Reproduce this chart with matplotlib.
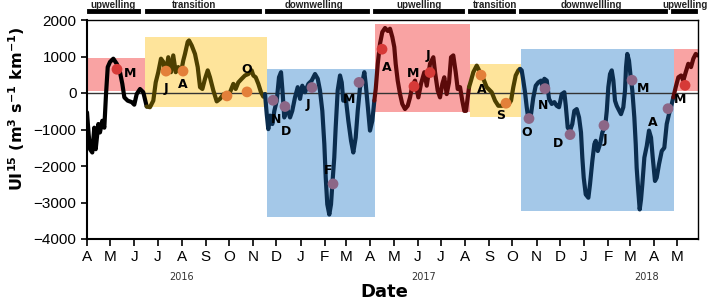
import matplotlib
matplotlib.use("Agg")
import matplotlib.pyplot as plt
import matplotlib.dates as mdates
import matplotlib.transforms as mtransforms
import numpy as np

# days since 2016-04-01 and upwelling index values, one pair of lists per season
up16_day = [0, 2, 3.9, 6.8, 9.4, 11.2, 14.6, 16.7, 19.7, 22.3, 24.5, 26.7, 29.6, 33.9, 38.3, 42.5,
            45.5, 48.1, 52.4, 57.6, 60.9, 64.0, 68.3, 72.5, 76.9]
up16_val = [-530, -1100, -1540, -1630, -950, -1540, -850, -1080, -760, -950, -30, 710, 850, 940,
            800, 570, 250, -120, -210, -250, -320, -30, 110, 20, -370]

tr16_day = [76.9, 81.1, 85.4, 88.5, 91.8, 95.3, 98.3, 101.4, 104.7, 108.2, 111.1, 114.3, 117.6,
            121.1, 124.0, 126.2, 129.7, 131.4, 134.9, 139.1, 142.6, 145.6, 148.6, 152.0, 155.5,
            158.4, 162.7, 167.1, 171.3, 175.6, 180.0, 184.2, 188.5, 191.5, 194.9, 199.3, 203.5,
            207.8, 212.1, 214.2, 217.3, 220.7, 224.1, 227.1, 229.3]
tr16_val = [-370, -390, -210, 290, 570, 940, 850, 520, 980, 570, 1030, 570, 710, 570, 890, 1070,
            1400, 1440, 1300, 1070, 710, 160, 110, 390, 620, 430, 70, -230, -160, -40, -120, 20,
            250, 110, 290, 390, 480, 520, 620, 480, 430, 250, 20, -100, -30]

dw16_day = [229.3, 231.5, 233.5, 235.7, 238.7, 241.3, 244.4, 247.3, 249.9, 252.1, 254.1, 257.2,
            260.2, 261.5, 264.4, 267.9, 271.4, 274.4, 277.3, 280.8, 285.1, 289.4, 293.7, 297.2,
            300.1, 303.1, 305.7, 307.5, 309.5, 312.1, 314.3, 316.0, 318.5, 320.3, 322.9, 325.9,
            328.1, 330.1, 333.2, 336.6, 340.1, 343.0, 346.1, 348.7, 351.7, 354.6, 357.2, 359.0,
            361.6, 364.5, 367.5, 370.1]
dw16_val = [-30, -580, -990, -620, -850, -490, -210, 430, 570, -30, -670, -390, -580, -670, -490,
            -120, 160, -160, 200, 20, 250, 340, 520, 390, 70, -490, -1400, -2320, -3050, -3330,
            -3050, -2500, -1770, -950, 70, 480, 290, -210, -120, -760, -1310, -1630, -1220, -490,
            160, 290, 570, 250, -350, -1030, -760, -210]

up17_day = [370.1, 371.9, 374.5, 377.4, 380.4, 383.9, 387.4, 390.3, 393.3, 395.8, 397.6, 400.2,
            403.2, 406.1, 409.6, 413.1, 416.1, 419.0, 422.5, 426.8, 430.2, 434.5, 437.6, 441.8,
            446.1, 448.3, 451.7, 454.7, 457.7, 460.2, 463.3, 466.3, 468.9, 471.8, 474.9, 477.5,
            480.5, 483.4, 486.0, 488.2, 490.4, 492.1]
up17_val = [-210, 110, 800, 1350, 1670, 1780, 1700, 1760, 1530, 1260, 800, 340, -30, -300, -440,
            -350, -120, 200, 340, -120, 250, 570, 200, 800, 980, 570, 70, -120, 250, 430, -30, 290,
            980, 1030, 570, 110, 160, -210, -490, -490, -120, 160]

tr17_day = [492.1, 494.6, 497.6, 502.0, 506.2, 510.5, 514.8, 521.3, 525.6, 529.8, 534.2, 538.4,
            542.7, 546.2, 549.1, 552.2, 555.6, 557.8]
tr17_val = [160, 340, 570, 750, 570, 390, 160, 20, -210, -350, -350, -330, -320, -210, 160, 480,
            620, 660]

dw17_day = [557.8, 559.9, 562.0, 564.2, 566.4, 568.5, 571.9, 574.9, 578.0, 581.3, 584.8, 586.5,
            589.1, 592.2, 595.1, 598.6, 602.0, 605.0, 608.0, 611.5, 614.8, 616.7, 619.2, 622.2,
            625.1, 627.7, 630.8, 633.8, 636.3, 638.0, 639.8, 642.4, 645.8, 647.9, 650.9, 653.5,
            655.3, 657.9, 660.8, 663.8, 666.4, 668.2, 669.5, 671.5, 673.7, 675.9, 678.0, 680.1,
            682.3, 684.4, 687.8, 690.8, 693.0, 694.3, 695.9, 698.1, 700.3, 702.4, 705.0, 706.8,
            708.0, 710.1, 711.9, 713.6, 715.3, 717.9, 721.0, 723.9, 726.5, 728.7, 731.6, 733.8,
            736.8, 740.3, 743.6, 746.7, 749.6, 752.2, 755.2]
dw17_val = [660, 620, 340, 20, -390, -720, -580, -120, 200, 290, 340, 200, 390, 340, -160, -300,
            -250, -350, -390, -30, 20, -350, -950, -1030, -850, -490, -440, -670, -1080, -1770,
            -2320, -2780, -2870, -2500, -1860, -1400, -1310, -1590, -1400, -1080, -950, -760, -490,
            160, 520, 620, 340, -210, -350, -440, -580, -390, 70, 710, 1070, 890, 430, 70, -670,
            -1400, -2050, -2690, -3190, -2920, -2500, -1770, -1450, -1030, -1220, -1770, -2410,
            -2320, -1950, -1590, -1500, -850, -580, -390, -120]

up18_day = [755.2, 758.3, 761.7, 765.2, 768.1, 771.2, 774.5, 778.0, 781.0, 784.1, 786.6]
up18_val = [-120, 160, 430, 480, 340, 570, 800, 710, 940, 1070, 1030]

# shaded season boxes: start day, end day, low, high
box_start = [0, 74.7, 231.4, 371, 493.3, 559, 756.5]
box_end = [74.7, 231.4, 371, 493.3, 559, 756.5, 787]
box_low = [50, -390, -3400, -530, -670, -3240, 65]
box_high = [960, 1530, 660, 1880, 800, 1195, 1195]
box_kind = ["up", "tr", "dw", "up", "tr", "dw", "up"]

# season bars on top
season_names = ["upwelling", "transition", "downwelling", "upwelling", "transition",
                "downwellling", "upwelling"]
season_start = [2.6, 77.3, 231.9, 371, 493.3, 559, 754.8]
season_end = [65.7, 221.6, 360.7, 483, 548.7, 744.5, 783.2]
season_mid = [33.5, 138.5, 291.8, 427.6, 525.6, 649.2, 770.5]

# monthly sample points
pt_day = [38.6, 101.8, 123.7, 180.3, 206.1, 239.6, 255.0, 289.8, 316.9, 350.4, 380.0, 421.2,
          441.8, 507.5, 539.7, 569.3, 589.9, 622.2, 665.9, 702.0, 748.4, 770.3]
pt_val = [650, 600, 600, -80, 30, -200, -370, 150, -2490, 290, 1200, 180, 560, 490, -280, -700,
          120, -1140, -890, 350, -430, 210]
pt_lbl = ["M", "J", "A", "", "O", "N", "D", "J", "F", "M", "A", "M", "J", "A", "S", "O", "N", "D",
          "J", "M", "A", "M"]
pt_kind = ["up", "tr", "tr", "tr", "tr", "dw", "dw", "dw", "dw", "dw", "up", "up", "up", "tr", "tr",
           "dw", "dw", "dw", "dw", "dw", "dw", "up"]
lbl_off = [(13, -4), (0, -17), (0, -13), (0, 0), (0, 22), (3, -19), (1, -25), (-4, -17), (-5, 13),
           (-10, -17), (5, -18), (-1, 13), (-2, 17), (1, -14), (-5, -12), (-2, -14), (-2, -17),
           (-12, -9), (1, -14), (11, -8), (-15, -14), (-5, -14)]

year_names = ["2016", "2017", "2018"]
year_day = [122, 433, 721]

box_col = {"up": "#f9a3a3", "tr": "#fee49b", "dw": "#a4c8e8"}
line_col = {"up": "#5c0a0a", "tr": "#4d4000", "dw": "#0b2d4e", "first": "#000000"}
dot_col = {"up": "#d63a38", "tr": "#e3803a", "dw": "#8c6787"}

plt.rcParams["font.family"] = ["Liberation Sans", "DejaVu Sans"]
plt.rcParams["mathtext.default"] = "bf"

base = mdates.date2num(np.datetime64("2016-04-01"))


def to_x(days):
    return base + np.array(days, dtype=float)


fig = plt.figure(figsize=(7.09, 3.0), dpi=100)
ax = fig.add_axes([87 / 709, 1 - 239 / 300, 611 / 709, 219 / 300])

for s, e, lo, hi, k in zip(box_start, box_end, box_low, box_high, box_kind):
    ax.fill_between(to_x([s, e]), lo, hi, color=box_col[k], lw=0, zorder=0)

ax.axhline(0, color="#333333", lw=1.0, zorder=1)

segments = [(up16_day, up16_val, "first"), (tr16_day, tr16_val, "tr"), (dw16_day, dw16_val, "dw"),
            (up17_day, up17_val, "up"), (tr17_day, tr17_val, "tr"), (dw17_day, dw17_val, "dw"),
            (up18_day, up18_val, "up")]
for d, v, k in segments:
    ax.plot(to_x(d), v, color=line_col[k], lw=3, solid_capstyle="round", zorder=2)

for d, v, lbl, k, off in zip(pt_day, pt_val, pt_lbl, pt_kind, lbl_off):
    ax.scatter(to_x([d]), [v], s=60, color=dot_col[k], edgecolors="none", zorder=3)
    if lbl:
        ax.annotate(lbl, xy=(to_x([d])[0], v), xytext=off, textcoords="offset pixels",
                    ha="center", va="center", fontsize=9, fontweight="bold",
                    family="DejaVu Sans", zorder=4)

ax.set_xlim(base, base + 787)
ax.set_ylim(-4000, 2000)
ax.set_yticks(np.arange(-4000, 2001, 1000))
ax.xaxis.set_major_locator(mdates.MonthLocator())
ax.xaxis.set_major_formatter(plt.FuncFormatter(lambda x, pos: mdates.num2date(x).strftime("%b")[0]))
ax.tick_params(axis="x", labelsize=11, length=5, width=1.2, pad=3)
ax.tick_params(axis="y", labelsize=11, length=4, width=1.2)
for sp in ["left", "bottom"]:
    ax.spines[sp].set_linewidth(1.5)
for sp in ["top", "right"]:
    ax.spines[sp].set_linewidth(1.0)

trans = mtransforms.blended_transform_factory(ax.transData, ax.transAxes)
for name, s, e, m in zip(season_names, season_start, season_end, season_mid):
    ax.plot(to_x([s, e]), [1.041, 1.041], color="black", lw=3.5, transform=trans, clip_on=False)
    ax.text(to_x([m])[0], 1.07, name, transform=trans, ha="center", va="center",
            fontsize=7, fontweight="bold", color="#222222")

for name, d in zip(year_names, year_day):
    ax.text(to_x([d])[0], -0.175, name, transform=trans, ha="center", va="center", fontsize=7,
            family="DejaVu Sans", color="#333333")

fig.text(384 / 709, 1 - 292 / 300, "Date", ha="center", va="center", fontsize=13,
         fontweight="bold", family="DejaVu Sans")
fig.text(17 / 709, 1 - 109 / 300, "UI$^{15}$ (m$^{3}$ s$^{-1}$ km$^{-1}$)", rotation=90,
         ha="center", va="center", fontsize=11.5, fontweight="bold", family="DejaVu Sans")

fig.savefig("out.png", dpi=100)
